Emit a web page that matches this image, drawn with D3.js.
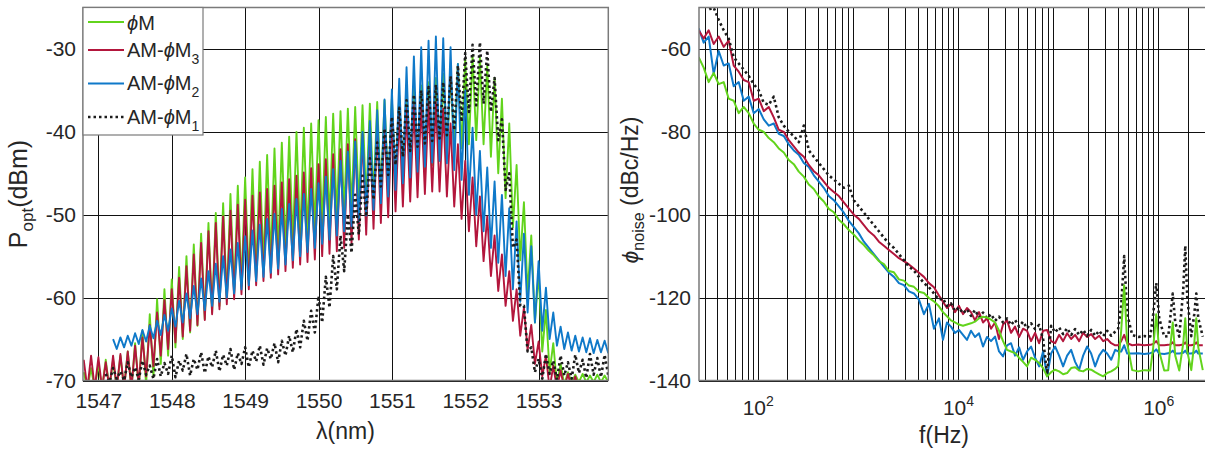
<!DOCTYPE html>
<html><head><meta charset="utf-8">
<script src="https://cdn.jsdelivr.net/npm/d3@7"></script>
<style>
body{margin:0;background:#fff;}
svg text{font-family:"Liberation Sans",Arial,Helvetica,sans-serif;fill:#262626;}
</style></head><body>
<svg id="chart" width="1205" height="455"></svg>
<script>
// ---------------- DATA : left panel (optical spectra, comb peaks / troughs) ----------------
const lambdaTicks = [1547,1548,1549,1550,1551,1552,1553];
const poptTicks = [-70,-60,-50,-40,-30];
const combPeakNm = [1546.80,1546.90,1547.00,1547.10,1547.20,1547.30,1547.40,1547.50,1547.60,1547.70,
 1547.80,1547.90,1548.00,1548.10,1548.20,1548.30,1548.40,1548.50,1548.60,1548.70,
 1548.80,1548.90,1549.00,1549.10,1549.20,1549.30,1549.40,1549.50,1549.60,1549.70,
 1549.80,1549.90,1550.00,1550.10,1550.20,1550.30,1550.40,1550.50,1550.60,1550.70,
 1550.80,1550.90,1551.00,1551.10,1551.20,1551.30,1551.40,1551.50,1551.60,1551.70,
 1551.80,1551.90,1552.00,1552.10,1552.20,1552.30,1552.40,1552.50,1552.60,1552.70,
 1552.80,1552.90,1553.00,1553.10,1553.20,1553.30,1553.40,1553.50,1553.60,1553.70,
 1553.80,1553.90];
const combTroughNm = [1546.85,1546.95,1547.05,1547.15,1547.25,1547.35,1547.45,1547.55,1547.65,1547.75,
 1547.85,1547.95,1548.05,1548.15,1548.25,1548.35,1548.45,1548.55,1548.65,1548.75,
 1548.85,1548.95,1549.05,1549.15,1549.25,1549.35,1549.45,1549.55,1549.65,1549.75,
 1549.85,1549.95,1550.05,1550.15,1550.25,1550.35,1550.45,1550.55,1550.65,1550.75,
 1550.85,1550.95,1551.05,1551.15,1551.25,1551.35,1551.45,1551.55,1551.65,1551.75,
 1551.85,1551.95,1552.05,1552.15,1552.25,1552.35,1552.45,1552.55,1552.65,1552.75,
 1552.85,1552.95,1553.05,1553.15,1553.25,1553.35,1553.45,1553.55,1553.65,1553.75,
 1553.85,1553.95];

const phiMPeak = [-69,-68.5,-68,-67.5,-67.5,-67,-66.5,-65.5,-64,-62,
 -60.2,-59,-57.8,-56.3,-55,-53.6,-52.3,-51,-49.8,-48.6,
 -47.5,-46.5,-45.5,-44.5,-43.6,-42.8,-42,-41.3,-40.6,-40,
 -39.5,-39,-38.6,-38.2,-37.8,-37.5,-37.2,-37,-36.8,-36.6,
 -36.4,-36.2,-36,-35.6,-35.2,-34.8,-34.4,-34,-33.5,-33,
 -32.4,-31.8,-31.2,-30.8,-31,-32,-33.5,-36,-39,-44,
 -48.5,-52.5,-57,-61.5,-65.5,-68,-69,-69.3,-69.2,-69.4,
 -69.3,-69.4];
const phiMTrough = [-71,-71,-71,-71,-71,-71,-71,-71,-70.5,-69.5,
 -68,-67,-66,-65,-64.2,-63.4,-62.6,-61.8,-61,-60.2,
 -59.4,-58.6,-57.8,-57,-56.2,-55.5,-54.8,-54.2,-53.6,-53,
 -52.5,-52,-51.5,-51,-50.5,-50,-49.5,-49,-48.5,-48,
 -47.5,-47,-46.5,-46,-45.5,-45,-44.5,-44,-43.5,-43,
 -42.5,-42,-41.5,-41,-41.5,-43,-45,-48,-51.5,-55.5,
 -59.5,-63,-66.5,-69,-70.5,-70.5,-70.3,-70.2,-70.2,-70.2,
 -70.2,-70.2];

const am3Peak = [-67.5,-67,-67.2,-67.8,-67,-66.8,-66.5,-65.8,-64.8,-63.3,
 -61.8,-60.3,-59,-57.6,-56.2,-54.8,-53.4,-52,-51,-50.2,
 -49.5,-48.8,-48.2,-47.7,-47.3,-46.9,-46.5,-46.1,-45.7,-45.3,
 -44.9,-44.4,-43.9,-43.3,-42.7,-42.1,-41.5,-40.9,-40.3,-39.7,
 -39.1,-38.6,-38.1,-37.6,-37.2,-36.8,-36.5,-36.3,-36.4,-37.2,
 -39,-41.5,-43.5,-45.5,-47.8,-50.2,-52.5,-54.8,-56.8,-59,
 -61.2,-63.3,-65.3,-67,-68.2,-68.8,-69.2,-69.5,-70.5,-70.5,
 -70.5,-70.5];
const am3Trough = [-71,-71,-71,-71,-71,-71,-71,-70.5,-69.5,-68.3,
 -67,-66.2,-65.4,-64.7,-64,-63.3,-62.7,-62,-61.4,-60.8,
 -60.2,-59.6,-59,-58.5,-58,-57.6,-57.2,-56.8,-56.4,-56,
 -55.7,-55.4,-55,-54.7,-54.4,-54,-53.5,-53,-52.4,-51.7,
 -51,-50.3,-49.6,-49,-48.4,-47.9,-47.5,-47.2,-47.2,-47.8,
 -49,-50.5,-52,-53.8,-55.6,-57.4,-59.2,-61,-62.8,-64.6,
 -66.3,-68,-69.5,-71,-71,-71,-71,-71,-71,-71,
 -71,-71];

const am2Peak = [null,null,null,null,-65,-64.8,-64.6,-64.3,-63.9,-63.4,
 -62.8,-62.1,-61.3,-60.4,-59.5,-58.6,-57.7,-56.8,-55.9,-55,
 -54.2,-53.4,-52.6,-51.9,-51.2,-50.5,-49.9,-49.3,-48.7,-48.1,
 -47.5,-46.9,-46.2,-45.4,-44.5,-43.5,-42.4,-41.2,-40,-38.7,
 -37.4,-36.1,-34.9,-33.6,-32.2,-30.9,-29.8,-29,-28.5,-28.7,
 -29.8,-31.8,-35,-39.5,-42.3,-44.3,-46,-47.6,-49.2,-50.8,
 -52.3,-53.8,-55.6,-58.8,-61.8,-63.5,-64.2,-64.6,-64.8,-64.9,
 -65.1,-65.2];
const am2Trough = [null,null,null,null,-66.2,-66,-65.8,-65.6,-65.3,-64.9,
 -64.5,-64,-63.5,-63,-62.5,-62,-61.5,-61,-60.5,-60,
 -59.5,-59,-58.5,-58,-57.5,-57,-56.5,-56,-55.5,-55,
 -54.5,-54,-53.5,-53,-52.5,-52,-51.4,-50.8,-50.1,-49.4,
 -48.6,-47.8,-47,-46.2,-45.5,-44.8,-44.2,-43.7,-43.5,-43.8,
 -44.6,-45.8,-47.6,-50,-52,-54,-55.8,-57.4,-59,-60.5,
 -61.8,-63,-64,-65,-65.8,-66.2,-66.4,-66.5,-66.6,-66.7,
 -66.6,-66.7];

const am1Peak = [null,null,null,-69.2,-68.5,-68.9,-67.8,-68.4,-67.6,-68.2,
 -67.4,-67.9,-67,-67.6,-66.8,-67.4,-66.6,-67.1,-66.4,-66.9,
 -66.2,-66.7,-66,-66.4,-65.8,-66.1,-65.5,-65.2,-64.6,-63.8,
 -62.8,-61.6,-59.8,-57.5,-55,-52.5,-50,-47.6,-45.3,-43.2,
 -41.3,-39.6,-38.2,-37.1,-36.2,-35.5,-35,-34.6,-34.3,-34,
 -33.3,-32,-30.5,-29.5,-29.2,-30.2,-33.5,-38.5,-45,-53,
 -61,-66,-67.4,-66.8,-67.6,-67,-67.8,-66.9,-67.5,-66.8,
 -67.3,-66.9];
const am1Trough = [null,null,null,-70.2,-69.8,-70,-69.6,-69.9,-69.3,-69.8,
 -69.5,-69.2,-69.6,-68.8,-69.4,-68.7,-69.1,-68.4,-68.9,-68.2,
 -68.7,-68,-68.4,-67.7,-68.1,-67.4,-67.8,-67,-66.6,-66,
 -65.2,-64.2,-63,-61.2,-59,-56.8,-54.6,-52.4,-50.2,-48.2,
 -46.6,-45.2,-44,-43,-42.3,-41.8,-41.4,-41.1,-40.8,-40.4,
 -39.8,-38.8,-37.6,-36.8,-36.6,-37.6,-41,-47,-54,-61,
 -66.5,-69,-69.8,-69.2,-69.9,-69.4,-69.8,-69.1,-69.7,-69.3,
 -69.6,-69.4];

// ---------------- DATA : right panel (phase noise) ----------------
const noiseTicks = [-140,-120,-100,-80,-60];
const freqDecades = [1e2,1e4,1e6];
// frequency sample points, as exponents of ten (f = 10^x Hz)
const freqExp = [1.41,1.46,1.51,1.56,1.61,1.66,1.71,1.76,1.81,1.86,1.91,1.96,2.01,2.06,2.11,2.16,2.21,2.26,2.31,2.36,
 2.41,2.46,2.51,2.56,2.61,2.66,2.71,2.76,2.81,2.86,2.91,2.96,3.01,3.06,3.11,3.16,3.21,3.26,3.31,3.36,
 3.41,3.46,3.51,3.56,3.61,3.66,3.71,3.76,3.81,
 3.85,3.89,3.93,3.97,4.01,4.05,4.09,4.13,4.17,4.21,4.25,4.29,4.33,4.37,4.41,4.45,4.49,4.53,4.57,4.61,
 4.65,4.69,4.73,4.77,4.81,4.85,4.89,4.93,4.97,5.01,5.05,5.09,5.13,5.17,5.21,5.25,5.29,5.33,5.37,5.41,
 5.45,5.49,5.53,5.57,5.60,
 5.63,5.66,5.69,5.74,5.80,5.86,5.92,5.95,5.98,6.01,6.06,6.10,6.12,6.145,6.17,6.21,6.25,6.27,6.29,6.33,
 6.36,6.38,6.40,6.445];
const pnPhiM = [-62.0,-64.5,-68.0,-65.8,-68.5,-68.0,-72.0,-72.5,-75.5,-74.0,-75.5,-78.0,-79.5,-80.0,-81.5,-82.5,-84.0,-85.0,-86.8,-87.8,
 -89.6,-90.8,-92.7,-93.8,-95.6,-96.8,-98.6,-99.4,-101.2,-102.3,-103.7,-104.8,-106.2,-107.3,-108.7,-109.8,-111.2,-111.9,-113.6,-113.9,
 -115.6,-115.9,-117.1,-117.4,-118.6,-118.9,-120.1,-120.9,-122.1,
 -123.5,-124.5,-125.5,-126.0,-126.5,-126.8,-126.5,-126.2,-125.8,-125.0,-124.6,-124.8,-125.3,-126.0,-128.0,-130.5,-132.6,-133.0,-133.4,-134.5,
 -135.5,-136.6,-134.5,-135.0,-135.8,-137.0,-139.0,-138.0,-137.4,-137.8,-138.5,-138.2,-137.0,-136.8,-137.6,-137.8,-137.2,-137.4,-138.0,-138.5,
 -139.0,-138.2,-137.8,-137.2,-136.5,
 -128,-117,-131,-137.5,-137.8,-137.5,-137.6,-132,-124,-133,-137.6,-137.5,-132,-126,-134,-137.6,-131,-125,-133,-137.5,
 -131,-125,-132,-137.5];
const pnAM3 = [-55.5,-57.5,-55.5,-58.8,-57.0,-59.5,-58.0,-64.0,-65.5,-67.5,-68.0,-72.5,-72.0,-75.0,-74.0,-76.5,-79.5,-80.0,-82.0,-83.5,
 -85.0,-86.0,-88.0,-89.5,-90.5,-92.0,-93.5,-94.5,-95.5,-97.0,-98.5,-100.0,-101.0,-102.5,-104.0,-105.0,-106.5,-107.5,-108.5,-109.5,
 -110.5,-111.2,-112.0,-113.0,-114.0,-115.0,-116.5,-117.5,-119.5,
 -121.0,-122.5,-121.5,-123.5,-122.0,-124.0,-122.5,-123.5,-125.5,-123.5,-126.0,-125.0,-127.5,-126.0,-130.0,-126.5,-125.5,-128.5,-127.0,-129.5,
 -127.5,-128.0,-130.5,-128.5,-131.0,-128.0,-127.8,-130.5,-131.0,-129.0,-130.5,-128.6,-130.0,-129.0,-130.5,-128.5,-129.5,-128.8,-130.0,-129.2,
 -130.5,-130.0,-131.0,-131.5,-131.5,
 -130.5,-129,-131,-131.5,-131.3,-131.5,-131.4,-131.2,-130.5,-131.5,-131.5,-131.4,-131.3,-130.8,-131.5,-131.5,-131.3,-130.8,-131.5,-131.5,
 -131.3,-130.8,-131.5,-131.5];
const pnAM2 = [-55.0,-58.5,-57.0,-66.0,-60.5,-64.0,-63.5,-69.0,-68.0,-72.5,-71.5,-75.5,-74.5,-77.0,-78.5,-78.0,-80.5,-81.0,-83.0,-84.5,
 -85.5,-87.5,-88.5,-90.5,-92.0,-93.5,-95.5,-96.5,-98.0,-99.5,-101.5,-103.0,-104.5,-106.5,-108.0,-109.5,-111.0,-112.5,-114.0,-115.0,
 -116.5,-117.0,-118.5,-119.0,-120.5,-124.0,-121.5,-127.5,-125.0,
 -130.2,-126.0,-127.0,-128.5,-127.8,-129.0,-130.2,-128.0,-129.5,-128.6,-131.8,-129.5,-130.5,-129.4,-133.0,-134.2,-131.5,-131.0,-134.0,-132.0,
 -135.0,-133.0,-131.8,-134.5,-136.6,-133.0,-139.0,-133.5,-131.8,-134.0,-136.6,-134.0,-132.6,-135.5,-137.4,-134.0,-131.8,-133.5,-136.6,-134.0,
 -132.6,-133.5,-135.0,-132.6,-133.0,
 -133,-131.5,-133.5,-133.5,-133.4,-133.6,-133.4,-133.2,-132.5,-133.5,-133.6,-133.4,-133.3,-132.8,-133.5,-133.5,-133.3,-132.8,-133.5,-133.5,
 -133.3,-132.8,-133.5,-133.5];
const pnAM1 = [-46.0,-47.5,-50.5,-50.0,-53.0,-55.5,-57.5,-62.0,-63.5,-65.0,-66.5,-68.5,-70.0,-73.0,-73.5,-71.5,-76.5,-78.5,-80.0,-81.0,
 -82.5,-78.5,-84.5,-86.0,-87.5,-89.0,-90.5,-91.5,-92.5,-93.5,-93.0,-96.5,-98.0,-99.5,-101.0,-102.5,-104.0,-105.5,-107.0,-108.0,
 -109.5,-111.0,-112.5,-113.5,-115.0,-116.5,-117.5,-119.0,-120.5,
 -120.2,-122.0,-121.4,-123.2,-122.4,-123.8,-122.8,-124.4,-123.0,-124.8,-123.6,-125.0,-124.0,-125.6,-124.6,-126.0,-125.0,-126.6,-125.4,-127.0,
 -125.8,-127.4,-126.2,-127.6,-126.6,-130.0,-138.5,-126.8,-128.4,-127.2,-128.8,-127.4,-129.0,-127.6,-129.0,-127.8,-129.2,-127.8,-129.2,-128.0,
 -129.3,-128.0,-129.2,-128.2,-127.5,
 -122,-110,-124,-129,-129.5,-129.3,-129.4,-124,-116.5,-125,-129.4,-129.3,-125,-119,-126,-129.4,-118,-107.5,-120,-129.3,
 -124,-119,-125,-129.4];

const seriesNames = ["\u03D5M","AM-\u03D5M","AM-\u03D5M","AM-\u03D5M"];
const seriesSubs = ["","3","2","1"];
const seriesColors = ["#62d41c","#b3163c","#0f79c9","#1c1c1c"];

// ---------------- DRAWING ----------------
const svg = d3.select("#chart");
svg.append("rect").attr("width",1205).attr("height",455).attr("fill","#fff");
const defs = svg.append("defs");

const L = {x0:83, x1:608.3, y0:7.5, y1:380.5};
const R = {x0:699, x1:1206, y0:7.5, y1:380.5};

const xL = d3.scaleLinear().domain([1546.79, 1553.95]).range([L.x0, L.x1]);
const yL = d3.scaleLinear().domain([-70, -25]).range([L.y1, L.y0]);
const xR = d3.scaleLog().domain([25.9, 3.0e6]).range([R.x0, R.x1]);
const yR = d3.scaleLinear().domain([-140, -50]).range([R.y1, R.y0]);

defs.append("clipPath").attr("id","clipL").append("rect")
  .attr("x",L.x0).attr("y",L.y0).attr("width",L.x1-L.x0).attr("height",L.y1-L.y0);
defs.append("clipPath").attr("id","clipR").append("rect")
  .attr("x",R.x0).attr("y",R.y0).attr("width",R.x1-R.x0).attr("height",R.y1-R.y0);

const gridColor = "#111";
const boxColor = "#7a7a7a";

// ---- left grid + axes
const gxL = svg.append("g").attr("transform",`translate(0,${L.y1})`)
  .call(d3.axisBottom(xL).tickValues(lambdaTicks).tickSize(-(L.y1-L.y0)).tickPadding(13).tickFormat(d3.format("d")));
const gyL = svg.append("g").attr("transform",`translate(${L.x0},0)`)
  .call(d3.axisLeft(yL).tickValues(poptTicks).tickSize(-(L.x1-L.x0)).tickPadding(7).tickFormat(d=>String(d)));

// ---- right grid + axes
const minorF = [];
[10,100,1000,1e4,1e5,1e6].forEach(dec=>{ for(let m=2;m<=9;m++){ const f=m*dec; if(f>25.9 && f<3.0e6) minorF.push(f);} });
svg.append("g").selectAll("line").data(minorF).join("line")
  .attr("x1",d=>xR(d)).attr("x2",d=>xR(d)).attr("y1",R.y0).attr("y2",R.y1)
  .attr("stroke",gridColor).attr("stroke-width",1).attr("shape-rendering","crispEdges");
const gxR = svg.append("g").attr("transform",`translate(0,${R.y1})`)
  .call(d3.axisBottom(xR).tickValues(freqDecades).tickSize(-(R.y1-R.y0)).tickPadding(0).tickFormat(""));
const gyR = svg.append("g").attr("transform",`translate(${R.x0},0)`)
  .call(d3.axisLeft(yR).tickValues(noiseTicks).tickSize(-(R.x1-R.x0)).tickPadding(8).tickFormat(d=>String(d)));

[gxL,gyL,gxR,gyR].forEach(g=>{
  g.select(".domain").remove();
  g.selectAll(".tick line").attr("stroke",gridColor).attr("stroke-width",1).attr("shape-rendering","crispEdges");
  g.selectAll(".tick text").attr("font-size",21).attr("fill","#262626")
    .attr("font-family","'Liberation Sans',Arial,sans-serif");
});
gxR.selectAll(".tick text").each(function(d){
  const t = d3.select(this).attr("y",34).attr("dy",null);
  t.append("tspan").text("10");
  t.append("tspan").attr("dy",-9).attr("font-size",14).text(Math.round(Math.log10(d)));
});

// ---- left series (comb spectra)
function combPts(pk, tr){
  const pts = [];
  combPeakNm.forEach((l,i)=>{
    if(pk[i]!=null) pts.push([l,pk[i]]);
    if(tr[i]!=null) pts.push([combTroughNm[i],tr[i]]);
  });
  return pts;
}
const lineL = d3.line().x(d=>xL(d[0])).y(d=>yL(d[1]));
const gL = svg.append("g").attr("clip-path","url(#clipL)");
const leftSeries = [
  {pts:combPts(phiMPeak,phiMTrough), c:seriesColors[0], dash:null},
  {pts:combPts(am3Peak,am3Trough), c:seriesColors[1], dash:null},
  {pts:combPts(am2Peak,am2Trough), c:seriesColors[2], dash:null},
  {pts:combPts(am1Peak,am1Trough), c:seriesColors[3], dash:"2.5,3"}
];
leftSeries.forEach(s=>{
  gL.append("path").attr("d",lineL(s.pts)).attr("fill","none")
    .attr("stroke",s.c).attr("stroke-width",s.dash?2.6:1.9)
    .attr("stroke-dasharray",s.dash).attr("stroke-linejoin","round");
});

// ---- right series (phase noise)
const lineR = d3.line().x(d=>xR(Math.pow(10,d[0]))).y(d=>yR(d[1]));
const gR = svg.append("g").attr("clip-path","url(#clipR)");
const rightSeries = [
  {v:pnAM2, c:seriesColors[2], dash:null},
  {v:pnAM3, c:seriesColors[1], dash:null},
  {v:pnAM1, c:seriesColors[3], dash:"2.5,3"},
  {v:pnPhiM, c:seriesColors[0], dash:null}
];
rightSeries.forEach(s=>{
  const pts = freqExp.map((e,i)=>[e,s.v[i]]);
  gR.append("path").attr("d",lineR(pts)).attr("fill","none")
    .attr("stroke",s.c).attr("stroke-width",s.dash?2.6:2)
    .attr("stroke-dasharray",s.dash).attr("stroke-linejoin","round");
});

// ---- boxes
svg.append("rect").attr("x",L.x0).attr("y",L.y0).attr("width",L.x1-L.x0).attr("height",L.y1-L.y0)
  .attr("fill","none").attr("stroke",boxColor).attr("stroke-width",1.5);
svg.append("rect").attr("x",R.x0).attr("y",R.y0).attr("width",R.x1-R.x0).attr("height",R.y1-R.y0)
  .attr("fill","none").attr("stroke",boxColor).attr("stroke-width",1.5);

// ---- legend
const lg = svg.append("g");
lg.append("rect").attr("x",L.x0).attr("y",L.y0).attr("width",120).attr("height",127.5)
  .attr("fill","#fff").attr("stroke",boxColor).attr("stroke-width",1.2);
const legY = [22, 50, 83.5, 117];
const legBase = [30, 56.5, 90, 123.5];
seriesNames.forEach((n,i)=>{
  lg.append("line").attr("x1",88).attr("x2",124).attr("y1",legY[i]).attr("y2",legY[i])
    .attr("stroke",seriesColors[i]).attr("stroke-width",i===3?2.6:2.2)
    .attr("stroke-dasharray",i===3?"2.5,3":null);
  const t = lg.append("text").attr("x",127).attr("y",legBase[i]).attr("font-size",20);
  if(i===0){
    t.append("tspan").attr("font-style","italic").text("\u03D5");
    t.append("tspan").text("M");
  } else {
    t.append("tspan").text("AM-");
    t.append("tspan").attr("font-style","italic").text("\u03D5");
    t.append("tspan").text("M");
    t.append("tspan").attr("font-size",14).attr("dy",7).text(seriesSubs[i]);
  }
});

// ---- axis labels
svg.append("text").attr("x",345.5).attr("y",439).attr("text-anchor","middle").attr("font-size",23).text("\u03BB(nm)");
svg.append("text").attr("x",944).attr("y",443).attr("text-anchor","middle").attr("font-size",23).text("f(Hz)");

const ylL = svg.append("text").attr("transform","translate(27,194) rotate(-90)").attr("text-anchor","middle").attr("font-size",25);
ylL.append("tspan").text("P");
ylL.append("tspan").attr("font-size",17).attr("dy",6).text("opt");
ylL.append("tspan").attr("dy",-6).text("(dBm)");

const ylR = svg.append("text").attr("transform","translate(638,190) rotate(-90)").attr("text-anchor","middle").attr("font-size",23);
ylR.append("tspan").attr("font-style","italic").text("\u03D5");
ylR.append("tspan").attr("font-size",16).attr("dy",6).text("noise");
ylR.append("tspan").attr("dy",-6).text(" (dBc/Hz)");
</script>
</body></html>
